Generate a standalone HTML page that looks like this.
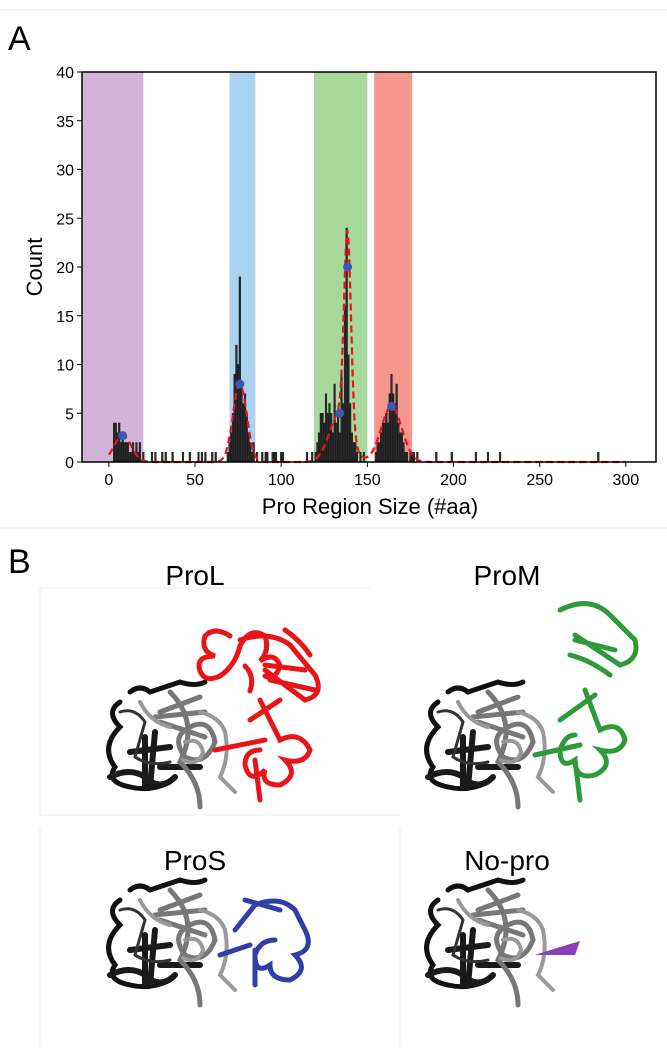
<!DOCTYPE html>
<html><head><meta charset="utf-8"><style>
body{margin:0;background:#fff;}
svg{display:block;font-family:"Liberation Sans",sans-serif;}
</style></head><body>
<svg id="fig" width="667" height="1050" viewBox="0 0 667 1050" xmlns="http://www.w3.org/2000/svg">
<line x1="0" y1="10" x2="667" y2="10" stroke="#eee"/>
<text x="8" y="50" font-size="34">A</text>
<g id="chart"></g>
<line x1="0" y1="528" x2="667" y2="528" stroke="#f0f0f0"/>
<text x="8" y="573" font-size="34">B</text>
<g stroke="#ececec" fill="none">
<line x1="40" y1="588" x2="370" y2="588"/><line x1="40" y1="588" x2="40" y2="815"/>
<line x1="40" y1="815" x2="400" y2="815"/><line x1="400" y1="828" x2="400" y2="1045"/><line x1="40" y1="828" x2="40" y2="1045"/>
</g>
<text x="195" y="585" font-size="28" text-anchor="middle">ProL</text>
<text x="507" y="585" font-size="28" text-anchor="middle">ProM</text>
<text x="195" y="870" font-size="28" text-anchor="middle">ProS</text>
<text x="507" y="870" font-size="28" text-anchor="middle">No-pro</text>
<defs>
<g id="core" fill="none" stroke-linecap="round">
<path d="M30 20 q10 -8 20 0 l30 -10 q15 5 25 0 M20 30 q-15 10 0 25 q-20 20 -5 40 q-10 15 15 20 q20 5 40 -5" stroke="#111" stroke-width="5"/>
<path d="M10 105 q20 -10 35 0 q15 15 30 0 M55 60 l-5 55 M45 65 l0 50 M60 95 l40 0 M30 80 l40 -5" stroke="#1a1a1a" stroke-width="6"/>
<path d="M60 40 l40 -15 M55 45 l50 -5 M60 50 l45 15 M70 20 q30 30 10 70 q20 20 20 45 M90 55 q20 -10 25 15 q-10 25 -30 15 q-15 -20 5 -30" stroke="#777" stroke-width="5"/>
<path d="M85 70 q15 -5 18 10 q-5 15 -20 8 M100 40 q20 5 25 20 q5 25 -5 45 l15 15 M40 30 q10 20 30 25" stroke="#999" stroke-width="4"/>
<path d="M20 40 q15 -5 25 10 l-10 35 q15 10 35 5" stroke="#333" stroke-width="3"/>
</g>
</defs>
<g>
<use href="#core" x="100" y="672"/>
<g fill="none" stroke="#e8141a" stroke-width="5" stroke-linecap="round">
<path d="M230 636 q-15 -10 -25 0 q-5 15 10 20 q-20 0 -15 15 q5 12 20 5 q15 -10 20 -30 q10 -20 25 -10 q5 15 -5 25 q15 -10 20 5 q-5 15 -15 10 M245 666 q10 10 5 25"/>
<path d="M240 640 q30 -10 50 5 l25 30 q10 20 -10 25 l-40 -30 M285 630 q15 10 25 25 M265 665 l40 5 M270 680 l45 10"/>
<path d="M260 700 l20 40 q20 -10 30 10 q-5 15 -25 10 q15 15 -5 25 q-20 0 -15 -15 q-15 15 -20 -5 q0 -15 15 -15 M250 720 l30 -20 M255 760 l5 40 M215 750 l50 -10"/>
</g></g>
<g>
<use href="#core" x="418" y="672"/>
<g fill="none" stroke="#2e9a3a" stroke-width="5" stroke-linecap="round">
<path d="M560 610 q30 -15 50 5 l25 25 q5 20 -15 25 l-45 -30 M575 640 l40 10 M570 655 q20 5 40 20"/>
<path d="M585 690 l15 40 q20 -10 25 10 q-5 15 -25 10 q15 15 -5 25 q-20 5 -20 -15 q-15 10 -15 -10 q5 -15 15 -15 M560 720 l35 -25 M535 755 l45 -10 M575 760 l5 40"/>
</g></g>
<g>
<use href="#core" x="100" y="870"/>
<g fill="none" stroke="#2f3fa8" stroke-width="5" stroke-linecap="round">
<path d="M235 930 l20 -25 q25 -10 40 5 l10 20 q10 20 -10 25 q15 15 -5 25 q-20 0 -20 -15 q-15 10 -15 -10 q5 -15 20 -15 M245 900 l35 10 M220 955 l30 -10 M255 950 l0 35"/>
</g></g>
<g>
<use href="#core" x="418" y="870"/>
<path d="M535 955 l25 -8 l20 -6 l-5 14 z" fill="#8a3fb8"/>
</g>
</svg>
<script>
const binSizes=[3,4,5,6,7,8,9,10,11,12,13,14,15,16,17,18,20,25,27,31,33,37,43,47,52,54,56,60,62,69,70,71,72,73,74,75,76,77,78,79,80,81,82,83,84,86,89,91,92,95,96,97,100,101,115,118,120,121,122,123,124,125,126,127,128,129,130,131,132,133,134,135,136,137,138,139,140,141,142,143,144,146,148,155,156,157,158,159,160,161,162,163,164,165,166,167,168,169,170,171,172,173,175,176,177,179,190,199,213,220,227,284];
const binCounts=[4,4,3,4,2,3,2,2,2,1,1,2,1,2,1,2,1,1,1,1,1,1,1,1,1,1,1,1,1,1,2,3,5,9,12,10,19,8,6,7,5,3,2,1,2,1,1,1,1,1,1,1,1,1,1,1,1,2,3,5,5,4,7,5,6,5,3,8,4,5,3,9,6,16,24,11,6,3,2,2,1,1,1,1,2,2,3,4,4,5,4,7,9,7,6,8,4,3,3,2,1,1,1,1,1,1,1,1,1,1,1,1];
const peakMeans=[8,76,134,138.5,164];
const peakHeights=[2.7,8,5,20,5.7];
const peakSigmas=[5,4,6,2,6];
const bandStarts=[-16,70,119,154];
const bandEnds=[20,85,150,176];
const bandColors=["#d2b4d8","#a9d3f0","#a8d99c","#f5968c"];
const xTicks=[0,50,100,150,200,250,300];
const yTicks=[0,5,10,15,20,25,30,35,40];
const NS="http://www.w3.org/2000/svg";
const g=document.getElementById('chart');
const L=82,R=656,T=72,B=462;
const xMin=-15.6,xMax=317.5,yMax=40;
const X=v=>L+(v-xMin)/(xMax-xMin)*(R-L);
const Y=v=>B-v/yMax*(B-T);
function mk(t,a){const e=document.createElementNS(NS,t);for(const k in a)e.setAttribute(k,a[k]);g.appendChild(e);return e;}
bandStarts.forEach((s,i)=>{const r=mk('rect',{x:X(Math.max(s,xMin)),y:T,width:X(bandEnds[i])-X(Math.max(s,xMin)),height:B-T,fill:bandColors[i]});

});
binSizes.forEach((s,i)=>{const r=mk('rect',{x:X(s-0.5),y:Y(binCounts[i]),width:X(1)-X(0),height:B-Y(binCounts[i]),fill:'#2b2b2b',stroke:'#111','stroke-width':0.4});

});
let d='';
for(let v=0;v<=300;v+=0.5){let y=0;peakMeans.forEach((m,i)=>{y+=peakHeights[i]*Math.exp(-((v-m)**2)/(2*peakSigmas[i]**2));});d+=(v?'L':'M')+X(v).toFixed(1)+' '+Y(y).toFixed(1);}
const fit=mk('path',{d:d,fill:'none',stroke:'#e8141a','stroke-width':2.2,'stroke-dasharray':'7 4'});


peakMeans.forEach((m,i)=>{const c=mk('circle',{cx:X(m),cy:Y(peakHeights[i]),r:4.5,fill:'#3a5bb5'});

});
const fr=mk('rect',{x:L,y:T,width:R-L,height:B-T,fill:'none',stroke:'#000','stroke-width':1.5});


xTicks.forEach(v=>{mk('line',{x1:X(v),x2:X(v),y1:B,y2:B+5,stroke:'#000'});
const t=mk('text',{x:X(v),y:B+23,'font-size':16,'text-anchor':'middle'});t.textContent=v;

});
yTicks.forEach(v=>{mk('line',{x1:L-5,x2:L,y1:Y(v),y2:Y(v),stroke:'#000'});
const t=mk('text',{x:L-8,y:Y(v)+6,'font-size':16,'text-anchor':'end'});t.textContent=v;

});
const xt=mk('text',{x:370,y:514,'font-size':22,'text-anchor':'middle'});xt.textContent='Pro Region Size (#aa)';


const yt=mk('text',{x:0,y:0,'font-size':22,'text-anchor':'middle',transform:'translate(42,267) rotate(-90)'});yt.textContent='Count';


</script>
</body></html>
